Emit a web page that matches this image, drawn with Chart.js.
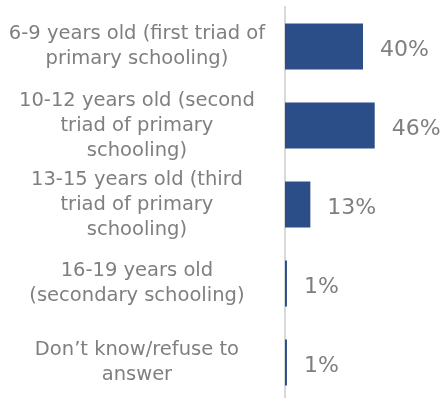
<!DOCTYPE html>
<html>
<head>
<meta charset="utf-8">
<script src="https://cdn.jsdelivr.net/npm/chart.js@4/dist/chart.umd.min.js"></script>
<style>
  html, body { margin: 0; padding: 0; background: #ffffff; overflow: hidden; }
  #wrap { width: 443px; height: 404px; }
</style>
</head>
<body>
<div id="wrap"><canvas id="chart" width="443" height="404"></canvas></div>
<script>
// Age groups (multi-line category labels)
const ageGroups = [
  ['6-9 years old (first triad of', 'primary schooling)'],
  ['10-12 years old (second', 'triad of primary', 'schooling)'],
  ['13-15 years old (third', 'triad of primary', 'schooling)'],
  ['16-19 years old', '(secondary schooling)'],
  ['Don\u2019t know/refuse to', 'answer']
];
// Share of respondents, percent
const shares = [40, 46, 13, 1, 1];

const BAR_COLOR = '#2B4E89';
const TEXT_COLOR = '#7F7F7F';
const FONT_FAMILY = '"DejaVu Sans", sans-serif';

// Writes the percentage to the right of each bar
const valueLabels = {
  id: 'valueLabels',
  afterDatasetsDraw(chart) {
    const ctx = chart.ctx;
    const meta = chart.getDatasetMeta(0);
    ctx.save();
    ctx.font = '22px ' + FONT_FAMILY;
    ctx.fillStyle = TEXT_COLOR;
    ctx.textAlign = 'left';
    ctx.textBaseline = 'middle';
    meta.data.forEach((bar, i) => {
      ctx.fillText(shares[i] + '%', bar.x + 17, bar.y + 4);
    });
    ctx.restore();
  }
};

new Chart(document.getElementById('chart'), {
  type: 'bar',
  data: {
    labels: ageGroups,
    datasets: [{
      data: shares,
      backgroundColor: BAR_COLOR,
      borderWidth: 0,
      categoryPercentage: 1,
      barPercentage: 0.582
    }]
  },
  options: {
    indexAxis: 'y',
    responsive: false,
    animation: false,
    devicePixelRatio: 1,
    layout: { padding: { top: 7, bottom: 2, left: 0, right: 2 } },
    plugins: {
      legend: { display: false },
      tooltip: { enabled: false }
    },
    scales: {
      x: {
        display: false,
        min: 0,
        max: 80
      },
      y: {
        afterFit(scale) {
          scale.width = 285;
          // let the plot run the full height; labels may overhang
          scale.paddingTop = 0;
          scale.paddingBottom = 0;
        },
        grid: { display: false, drawTicks: false },
        border: { display: true, color: '#D9D9D9', width: 2 },
        ticks: {
          padding: 20,
          crossAlign: 'center',
          color: TEXT_COLOR,
          font: { family: FONT_FAMILY, size: 19.5, lineHeight: 1.28 }
        }
      }
    }
  },
  plugins: [valueLabels]
});
</script>
</body>
</html>
